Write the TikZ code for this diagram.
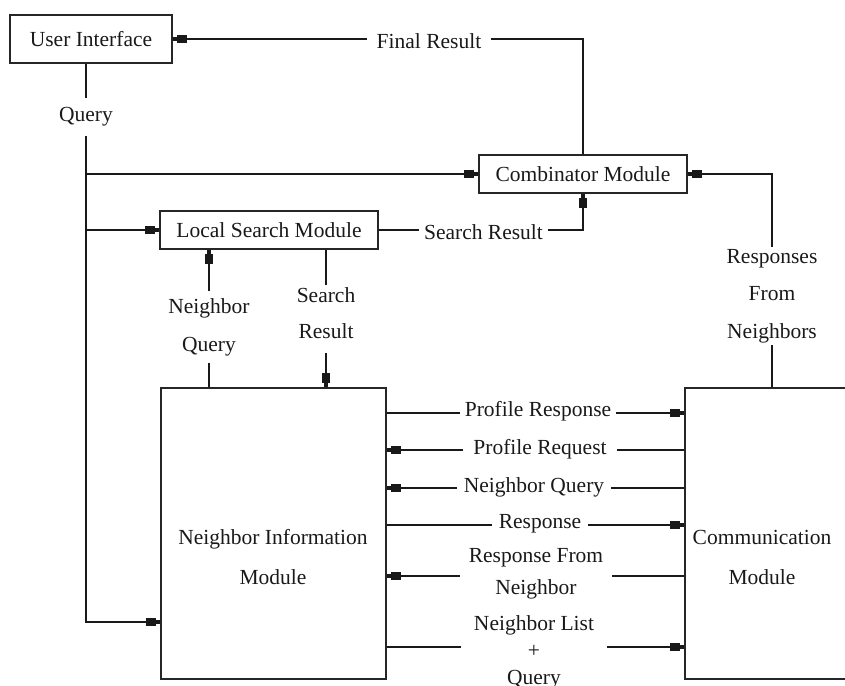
\documentclass[tikz,border=0pt]{standalone}
\usepackage{fontspec}
\setmainfont{Liberation Serif}
\usetikzlibrary{arrows.meta}
\newcommand{\lblfont}[1]{\fontsize{21.5}{#1}\selectfont}
\begin{document}
\begin{tikzpicture}[x=1pt,y=-1pt,
  every node/.style={font=\lblfont{26}, text=black!90},
  box/.style={draw=black!85, line width=1.8pt, inner sep=0pt},
  lbl/.style={inner xsep=6pt, inner ysep=4pt, align=center},
  wire/.style={draw=black!90, line width=1.8pt},
  flow/.style={wire, -{Rectangle[length=10pt,width=8.5pt,sep=0pt] Rectangle[length=4pt,width=3.5pt,sep=0pt]}},
]
\useasboundingbox (0,0) rectangle (845,685);

% modules
\node[box, minimum width=162pt, minimum height=48pt] (ui) at (91,39) {User Interface};
\node[box, minimum width=208pt, minimum height=38pt] (comb) at (583,174) {Combinator Module};
\node[box, minimum width=218pt, minimum height=38pt] (ls) at (269,230) {Local Search Module};
\node[box, minimum width=225pt, minimum height=291pt] (nim) at (273.5,533.5) {};
\node[box, minimum width=165pt, minimum height=291pt] (comm) at (767.5,533.5) {};
\node[align=center, font=\lblfont{40}] (nimtext) at (273,557) {Neighbor Information\\Module};
\node[align=center, font=\lblfont{40}] (commtext) at (762,557) {Communication\\Module};

% query trunk from the user interface
\node[lbl, inner ysep=9pt] (q) at (86,117) {Query};
\coordinate (qrow) at (0,622);
\draw[wire] (ui.south -| q) -- (q.north);
\draw[flow] (q.south) |- (nim.west |- qrow);
\draw[flow] (q.south |- comb.west) -- (comb.west);
\draw[flow] (q.south |- ls.west) -- (ls.west);

% final result back to the user interface
\node[lbl, inner xsep=10pt] (fr) at (429,41) {Final Result};
\draw[flow] (fr.west |- ui.east) -- (ui.east);
\draw[wire] (fr.east |- ui.east) -| (comb.north);

% local search result to the combinator
\node[lbl, inner xsep=5pt] (sr) at (483.5,232) {Search Result};
\draw[wire] (ls.east) -- (sr.west |- ls.east);
\draw[flow] (sr.east |- ls.east) -| (comb.south);

% neighbor query and search result between local search and neighbor information
\node[lbl, inner ysep=7pt, font=\lblfont{38}] (nq) at (209,327) {Neighbor\\Query};
\draw[flow] (nq.north) -- (nq.north |- ls.south);
\draw[wire] (nq.south) -- (nq.south |- nim.north);
\node[lbl, inner ysep=2pt, font=\lblfont{36}] (sr2) at (326,313) {Search\\Result};
\draw[wire] (sr2.north |- ls.south) -- (sr2.north);
\draw[flow, shorten <=12pt] (sr2.south) -- (sr2.south |- nim.north);

% responses from neighbors to the combinator
\node[lbl, inner ysep=2pt, font=\lblfont{37.5}] (rfn) at (772,296) {Responses\\From\\Neighbors};
\draw[flow] (rfn.north) |- (comb.east);
\draw[wire] (rfn.south) -- (rfn.south |- comm.north);

% messages between neighbor information and communication
\coordinate (r1) at (0,413);
\coordinate (r2) at (0,450);
\coordinate (r3) at (0,488);
\coordinate (r4) at (0,525);
\coordinate (r5) at (0,576);
\coordinate (r6) at (0,647);
\node[lbl, inner xsep=5pt] (m1) at (538,411) {Profile Response};
\node[lbl, inner xsep=10pt] (m2) at (540,449) {Profile Request};
\node[lbl, inner xsep=7pt] (m3) at (534,487) {Neighbor Query};
\node[lbl, inner xsep=7pt] (m4) at (540,524) {Response};
\node[lbl, inner xsep=9pt, font=\lblfont{32}] (m5) at (536,574) {Response From\\Neighbor};
\node[lbl, inner xsep=13pt, font=\lblfont{27}] (m6) at (534,652) {Neighbor List\\+\\Query};

\draw[wire] (nim.east |- r1) -- (m1.west |- r1);
\draw[flow] (m1.east |- r1) -- (comm.west |- r1);
\draw[flow] (m2.west |- r2) -- (nim.east |- r2);
\draw[wire] (m2.east |- r2) -- (comm.west |- r2);
\draw[flow] (m3.west |- r3) -- (nim.east |- r3);
\draw[wire] (m3.east |- r3) -- (comm.west |- r3);
\draw[wire] (nim.east |- r4) -- (m4.west |- r4);
\draw[flow] (m4.east |- r4) -- (comm.west |- r4);
\draw[flow] (m5.west |- r5) -- (nim.east |- r5);
\draw[wire] (m5.east |- r5) -- (comm.west |- r5);
\draw[wire] (nim.east |- r6) -- (m6.west |- r6);
\draw[flow] (m6.east |- r6) -- (comm.west |- r6);
\end{tikzpicture}
\end{document}
